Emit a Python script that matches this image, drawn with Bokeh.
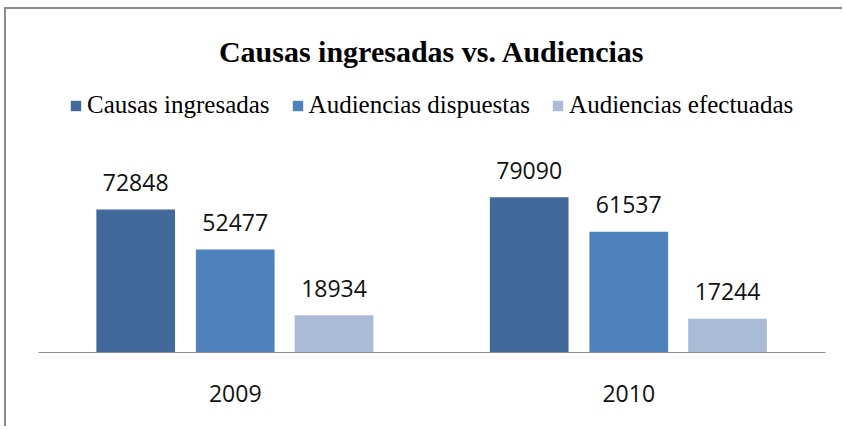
from bokeh.plotting import figure
from bokeh.models import ColumnDataSource, Range1d, Legend, LegendItem
from bokeh.transform import dodge
from bokeh.core.properties import value
from bokeh.embed import file_html
from bokeh.resources import INLINE

years = ["2009", "2010"]
causas_ingresadas = [72848, 79090]
audiencias_dispuestas = [52477, 61537]
audiencias_efectuadas = [18934, 17244]
series_names = ["Causas ingresadas", "Audiencias dispuestas", "Audiencias efectuadas"]
colors = ["#416A9B", "#4F81BD", "#AABBD8"]

src = ColumnDataSource(dict(
    year=years,
    s0=causas_ingresadas,
    s1=audiencias_dispuestas,
    s2=audiencias_efectuadas,
    l0=[str(v) for v in causas_ingresadas],
    l1=[str(v) for v in audiencias_dispuestas],
    l2=[str(v) for v in audiencias_efectuadas],
))

p = figure(x_range=years, y_range=Range1d(0, 141200),
           frame_width=787, frame_height=277,
           min_border_left=32, min_border_right=17, min_border_top=66, min_border_bottom=74,
           output_backend="svg", toolbar_location=None,
           title="Causas ingresadas vs. Audiencias")
p.styles = {"border-top": "2px solid #8a8a8a", "border-left": "2px solid #8a8a8a",
            "margin-left": "4px", "margin-top": "7px"}

p.title.align = "center"
p.title.text_font = "Liberation Serif"
p.title.text_font_size = "30px"
p.title.text_font_style = "bold"
p.title.text_color = "#000000"
p.title.standoff = 15

offsets = [-0.253, 0.0, 0.251]
items = []
for i, name in enumerate(series_names):
    r = p.vbar(x=dodge("year", offsets[i], range=p.x_range), top="s%d" % i, width=0.2,
               source=src, fill_color=colors[i], line_color=None)
    p.text(x=dodge("year", offsets[i], range=p.x_range), y="s%d" % i, text="l%d" % i,
           source=src, text_align="center", text_baseline="alphabetic", y_offset=-27,
           text_font=value("Open Sans"), text_font_size="23px", text_color="#111111")
    items.append(LegendItem(label=name, renderers=[r]))

legend = Legend(items=items, orientation="horizontal", location=(31, 233),
                glyph_width=13, glyph_height=13, label_standoff=5, spacing=21,
                label_text_font="Liberation Serif", label_text_font_size="25px",
                label_text_color="#000000", border_line_color=None,
                padding=0, margin=0, background_fill_alpha=0)
p.add_layout(legend, "center")

p.yaxis.visible = False
p.xgrid.grid_line_color = None
p.ygrid.grid_line_color = None
p.outline_line_color = None
p.xaxis.axis_line_color = "#8c8c8c"
p.xaxis.axis_line_width = 1
p.xaxis.major_tick_line_color = None
p.xaxis.minor_tick_line_color = None
p.xaxis.major_label_standoff = 26
p.xaxis.major_label_text_font = "Open Sans"
p.xaxis.major_label_text_font_size = "23px"
p.xaxis.major_label_text_color = "#111111"

open("out.html", "w").write(file_html(p, INLINE))
